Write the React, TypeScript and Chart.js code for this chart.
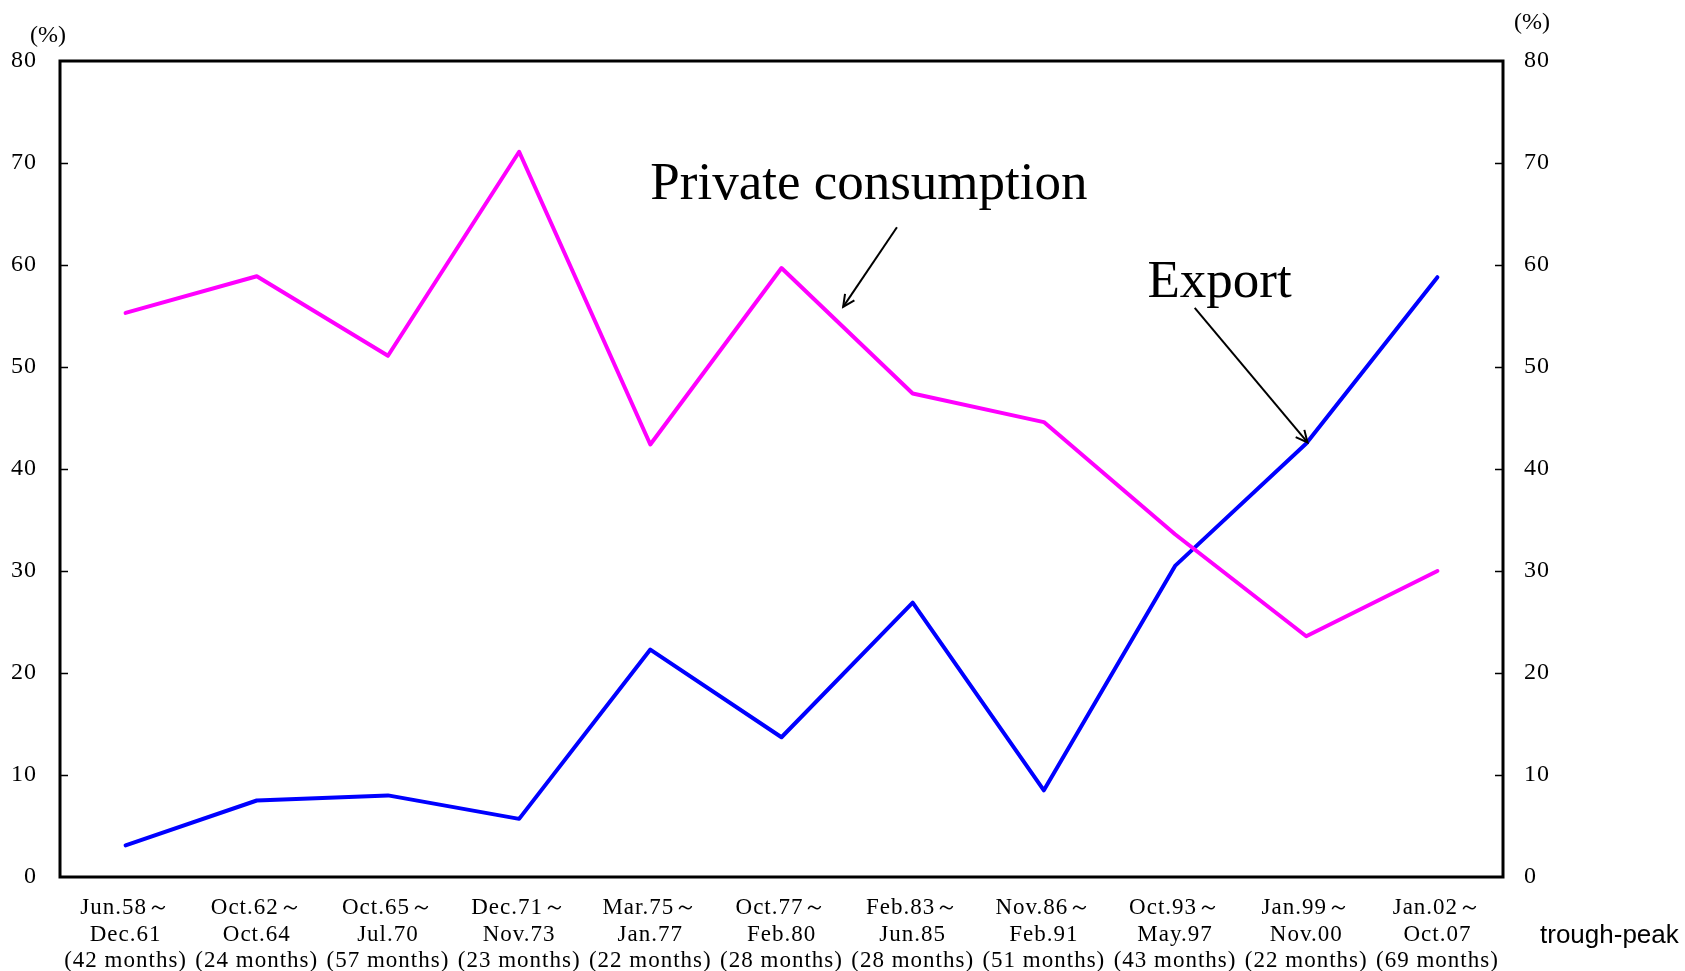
import React, { useEffect, useRef } from "react";
import { Chart, registerables } from "chart.js";

Chart.register(...registerables);

const categories: string[][] = [
  ["Jun.58～", "Dec.61", "(42 months)"],
  ["Oct.62～", "Oct.64", "(24 months)"],
  ["Oct.65～", "Jul.70", "(57 months)"],
  ["Dec.71～", "Nov.73", "(23 months)"],
  ["Mar.75～", "Jan.77", "(22 months)"],
  ["Oct.77～", "Feb.80", "(28 months)"],
  ["Feb.83～", "Jun.85", "(28 months)"],
  ["Nov.86～", "Feb.91", "(51 months)"],
  ["Oct.93～", "May.97", "(43 months)"],
  ["Jan.99～", "Nov.00", "(22 months)"],
  ["Jan.02～", "Oct.07", "(69 months)"],
];

const privateConsumption: number[] = [55.3, 58.9, 51.1, 71.1, 42.4, 59.7, 47.4, 44.6, 33.6, 23.6, 30.0];
const exportShare: number[] = [3.1, 7.5, 8.0, 5.7, 22.3, 13.7, 26.9, 8.5, 30.5, 42.5, 58.8];

const yMin = 0;
const yMax = 80;
const yStep = 10;

// annotations: [category index (fractional), value]
const pcLabel = { text: "Private consumption", at: [4.0, 66.5] };
const pcArrow = { from: [5.88, 63.7], to: [5.47, 55.9] };
const exLabel = { text: "Export", at: [7.79, 56.9] };
const exArrow = { from: [8.15, 55.8], to: [9.01, 42.6] };

const SERIF = "'Liberation Serif', 'DejaVu Serif', serif";

function drawArrow(ctx: CanvasRenderingContext2D, x1: number, y1: number, x2: number, y2: number) {
  ctx.beginPath();
  ctx.moveTo(x1, y1);
  ctx.lineTo(x2, y2);
  ctx.stroke();
  const ang = Math.atan2(y2 - y1, x2 - x1);
  const len = 13;
  const spread = 0.45;
  ctx.beginPath();
  ctx.moveTo(x2 - len * Math.cos(ang - spread), y2 - len * Math.sin(ang - spread));
  ctx.lineTo(x2, y2);
  ctx.lineTo(x2 - len * Math.cos(ang + spread), y2 - len * Math.sin(ang + spread));
  ctx.stroke();
}

const decorPlugin = {
  id: "decor",
  beforeDraw(chart: any) {
    (chart.ctx as any).letterSpacing = "1px";
  },
  beforeDatasetsDraw(chart: any) {
    (chart.ctx as any).letterSpacing = "0px";
  },
  afterDraw(chart: any) {
    const ctx: CanvasRenderingContext2D = chart.ctx;
    (ctx as any).letterSpacing = "0px";
    const { left, right, top, bottom } = chart.chartArea;
    const xs = chart.scales.x;
    const ys = chart.scales.y;
    ctx.save();
    // frame
    ctx.strokeStyle = "#000";
    ctx.lineWidth = 3;
    ctx.strokeRect(left, top, right - left, bottom - top);
    // inward ticks
    ctx.lineWidth = 1.5;
    for (let v = yMin + yStep; v < yMax; v += yStep) {
      const py = Math.round(ys.getPixelForValue(v)) + 0.5;
      ctx.beginPath();
      ctx.moveTo(left, py);
      ctx.lineTo(left + 8, py);
      ctx.moveTo(right - 8, py);
      ctx.lineTo(right, py);
      ctx.stroke();
    }
    // unit labels
    ctx.fillStyle = "#000";
    ctx.font = `24px ${SERIF}`;
    ctx.textAlign = "center";
    ctx.textBaseline = "middle";
    ctx.fillText("(%)", 48, 36);
    ctx.fillText("(%)", 1532, 23);
    // trough-peak
    ctx.font = "26px 'Liberation Sans', Arial, sans-serif";
    ctx.textAlign = "left";
    ctx.fillText("trough-peak", 1540, 936);
    // annotations
    ctx.font = `53px ${SERIF}`;
    ctx.textBaseline = "alphabetic";
    ctx.fillText(pcLabel.text, xs.getPixelForValue(pcLabel.at[0]), ys.getPixelForValue(pcLabel.at[1]));
    ctx.fillText(exLabel.text, xs.getPixelForValue(exLabel.at[0]), ys.getPixelForValue(exLabel.at[1]));
    ctx.lineWidth = 2;
    for (const a of [pcArrow, exArrow]) {
      drawArrow(
        ctx,
        xs.getPixelForValue(a.from[0]),
        ys.getPixelForValue(a.from[1]),
        xs.getPixelForValue(a.to[0]),
        ys.getPixelForValue(a.to[1])
      );
    }
    ctx.restore();
  },
};

export default function App() {
  const ref = useRef<HTMLCanvasElement | null>(null);
  useEffect(() => {
    if (!ref.current) return;
    const chart = new Chart(ref.current, {
      type: "line",
      data: {
        labels: categories,
        datasets: [
          {
            label: "Private consumption",
            data: privateConsumption,
            borderColor: "#FF00FF",
            borderWidth: 4,
            pointRadius: 0,
            tension: 0,
            borderCapStyle: "round",
            borderJoinStyle: "round",
            yAxisID: "y",
          },
          {
            label: "Export",
            data: exportShare,
            borderColor: "#0000FF",
            borderWidth: 4,
            pointRadius: 0,
            tension: 0,
            borderCapStyle: "round",
            borderJoinStyle: "round",
            yAxisID: "y",
          },
        ],
      },
      options: {
        responsive: false,
        animation: false,
        layout: { padding: { top: 61, left: 0, right: 0, bottom: 0 } },
        plugins: { legend: { display: false }, tooltip: { enabled: false } },
        scales: {
          x: {
            type: "category",
            offset: true,
            grid: { display: false, drawTicks: false },
            border: { display: false },
            ticks: {
              autoSkip: false,
              maxRotation: 0,
              minRotation: 0,
              padding: 18,
              color: "#000",
              font: { family: SERIF, size: 23, lineHeight: 1.15 },
            },
            afterFit: (s: any) => {
              s.height = 94;
            },
          },
          y: {
            type: "linear",
            position: "left",
            min: yMin,
            max: yMax,
            ticks: { stepSize: yStep, padding: 23, color: "#000", font: { family: SERIF, size: 24 } },
            grid: { display: false, drawTicks: false },
            border: { display: false },
            afterFit: (s: any) => {
              s.width = 60;
            },
          },
          y1: {
            type: "linear",
            position: "right",
            min: yMin,
            max: yMax,
            ticks: { stepSize: yStep, padding: 21, color: "#000", font: { family: SERIF, size: 24 } },
            grid: { display: false, drawTicks: false },
            border: { display: false },
            afterFit: (s: any) => {
              s.width = 182;
            },
          },
        },
      },
      plugins: [decorPlugin],
    });
    return () => chart.destroy();
  }, []);
  return (
    <div style={{ position: "absolute", left: 0, top: 0, width: 1685, height: 971, background: "#fff" }}>
      <canvas ref={ref} width={1685} height={971} style={{ display: "block" }} />
    </div>
  );
}
